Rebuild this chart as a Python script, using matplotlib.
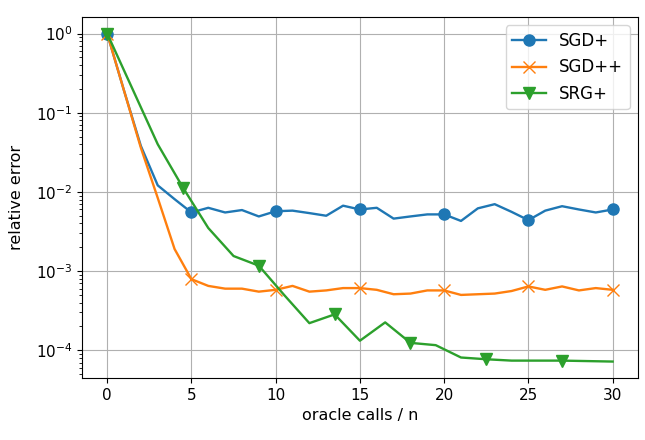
import matplotlib
matplotlib.use("Agg")
from matplotlib import pyplot as plt
import numpy as np

# SGD+ / SGD++ sampled every oracle call, SRG+ every 1.5 calls
x_sgd = list(range(31))
sgd_plus = [1.0, 0.19, 0.038, 0.0121, 0.0081, 0.0055, 0.0063, 0.0055, 0.0059, 0.0049,
            0.0057, 0.0058, 0.0054, 0.0050, 0.0067, 0.0060, 0.0063, 0.0046, 0.0049, 0.0052,
            0.0052, 0.0043, 0.0062, 0.0070, 0.0056, 0.0044, 0.0058, 0.0066, 0.0060, 0.0055,
            0.0060]
sgd_pp = [1.0, 0.19, 0.036, 0.0084, 0.0019, 0.00079, 0.00065, 0.00060, 0.00060, 0.00055,
          0.00058, 0.00065, 0.00055, 0.00057, 0.00061, 0.00061, 0.00058, 0.00051, 0.00052, 0.00057,
          0.00057, 0.00050, 0.00051, 0.00052, 0.00056, 0.00064, 0.00058, 0.00064, 0.00057, 0.00061,
          0.00058]

x_srg = [0, 1.5, 3, 4.5, 6, 7.5, 9, 10.5, 12, 13.5, 15, 16.5, 18, 19.5, 21, 22.5, 24, 25.5, 27, 28.5, 30]
srg_plus = [1.0, 0.2, 0.040, 0.0113, 0.0035, 0.00155, 0.00117, 0.00050, 0.00022, 0.000284,
            0.000132, 0.000225, 0.000124, 0.000116, 0.000081, 0.000077, 0.000074, 0.000074, 0.000074,
            0.000073, 0.000072]

plt.rcParams['font.size'] = 11.5
plt.rcParams['xtick.labelsize'] = 11
plt.rcParams['ytick.labelsize'] = 11

fig = plt.figure(figsize=(6.45, 4.4), dpi=100)
ax = fig.add_axes([0.127, 0.141, 0.862, 0.82])

ax.plot(x_sgd, sgd_plus, marker="o", markersize=8, markevery=5, lw=1.7, label="SGD+")
ax.plot(x_sgd, sgd_pp, marker="x", markersize=8, markevery=5, lw=1.7, label="SGD++")
ax.plot(x_srg, srg_plus, marker="v", markersize=8, markevery=3, lw=1.7, label="SRG+")

ax.set_yscale("log")
ax.set_xlabel("oracle calls / n")
ax.set_ylabel("relative error", labelpad=8)
ax.grid(True)
ax.legend(loc="upper right", fontsize=12)

fig.savefig("out.png", dpi=100)
